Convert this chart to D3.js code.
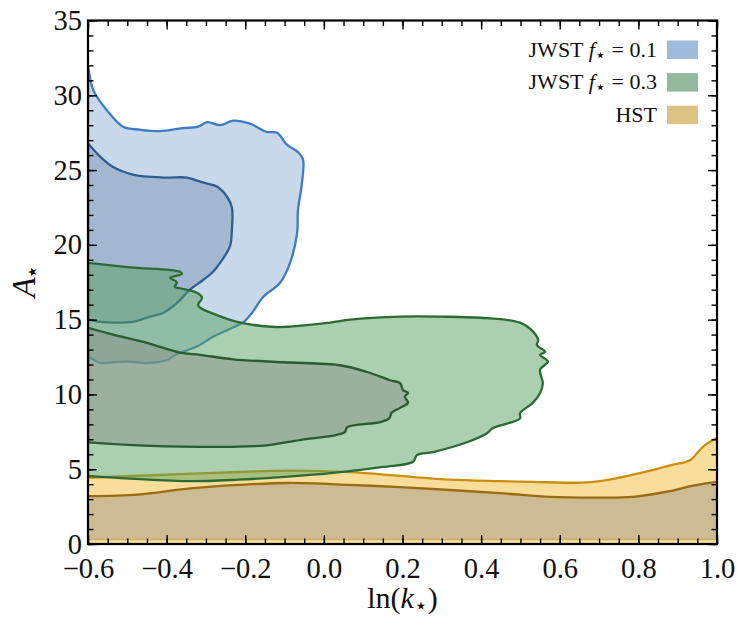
<!DOCTYPE html>
<html><head><meta charset="utf-8">
<script src="https://cdn.jsdelivr.net/npm/d3@7"></script>
<style>
html,body{margin:0;padding:0;background:#fff;}
svg{display:block;}
text{font-family:"Liberation Serif","DejaVu Serif",serif;fill:#111;}
</style></head>
<body>
<svg id="chart" width="738" height="621"></svg>
<script>
// ---- data (ln k*, A*) ----
const xTicks = [-0.6,-0.4,-0.2,0.0,0.2,0.4,0.6,0.8,1.0];
const yTicks = [0,5,10,15,20,25,30,35];
const legendLabels = ["JWST f=0.1","JWST f=0.3","HST"];

const blueOuter = [[-0.600,32.0],[-0.590,30.6],[-0.582,30.1],[-0.552,29.0],[-0.511,27.9],[-0.468,27.7],[-0.417,27.6],[-0.360,27.8],[-0.320,27.9],[-0.297,28.2],[-0.264,28.0],[-0.231,28.3],[-0.188,28.1],[-0.145,27.55],[-0.119,27.5],[-0.094,26.7],[-0.066,26.2],[-0.053,25.7],[-0.056,24.1],[-0.066,22.3],[-0.068,20.8],[-0.086,18.8],[-0.112,17.45],[-0.155,16.5],[-0.183,15.45],[-0.206,14.8],[-0.221,14.6],[-0.246,14.3],[-0.282,13.85],[-0.323,13.2],[-0.374,12.7],[-0.399,12.3],[-0.450,12.1],[-0.500,12.2],[-0.536,12.15],[-0.569,12.1],[-0.595,12.45],[-0.600,12.45]];
const blueInner = [[-0.600,26.8],[-0.569,25.9],[-0.536,25.2],[-0.486,24.7],[-0.409,24.5],[-0.348,24.5],[-0.323,24.3],[-0.297,24.1],[-0.272,23.9],[-0.246,23.2],[-0.234,22.5],[-0.234,21.0],[-0.239,19.9],[-0.264,18.8],[-0.282,18.2],[-0.307,17.65],[-0.341,17.0],[-0.374,16.1],[-0.409,15.45],[-0.442,15.2],[-0.486,14.85],[-0.536,14.8],[-0.569,14.85],[-0.600,15.0]];
const greenOuter = [[-0.600,18.8],[-0.493,18.5],[-0.366,18.2],[-0.361,18.05],[-0.391,17.8],[-0.374,17.5],[-0.379,17.2],[-0.366,17.1],[-0.323,16.8],[-0.310,16.45],[-0.320,16.0],[-0.315,15.8],[-0.272,15.3],[-0.221,14.85],[-0.180,14.65],[-0.112,14.5],[0.016,14.8],[0.067,15.0],[0.194,15.2],[0.295,15.2],[0.415,15.1],[0.499,14.8],[0.532,14.2],[0.545,13.65],[0.542,13.3],[0.563,12.85],[0.550,12.65],[0.570,12.2],[0.550,11.65],[0.557,10.75],[0.550,10.1],[0.532,9.45],[0.499,8.75],[0.499,8.4],[0.430,7.75],[0.415,7.4],[0.364,6.8],[0.278,6.15],[0.237,5.95],[0.227,5.5],[0.150,5.15],[0.023,4.75],[-0.091,4.5],[-0.218,4.3],[-0.346,4.2],[-0.516,4.4],[-0.600,4.55]];
const greenInner = [[-0.600,14.45],[-0.536,14.0],[-0.450,13.45],[-0.366,12.8],[-0.315,12.65],[-0.231,12.35],[-0.104,12.15],[0.041,11.95],[0.110,11.5],[0.168,10.95],[0.194,10.75],[0.201,10.3],[0.214,10.1],[0.206,9.85],[0.214,9.45],[0.194,9.1],[0.173,8.8],[0.166,8.4],[0.143,8.15],[0.059,7.8],[0.054,7.5],[0.033,7.3],[-0.061,6.95],[-0.145,6.6],[-0.231,6.5],[-0.315,6.5],[-0.473,6.6],[-0.600,6.8]];
const hstOuterTop = [[-0.600,4.43],[-0.430,4.6],[-0.262,4.77],[-0.091,4.9],[0.067,4.8],[0.194,4.55],[0.321,4.3],[0.448,4.2],[0.532,4.15],[0.659,4.1],[0.702,4.2],[0.746,4.4],[0.830,4.9],[0.888,5.3],[0.931,5.6],[0.964,6.5],[1.000,7.1]];
const hstInnerTop = [[-0.600,3.2],[-0.473,3.3],[-0.346,3.7],[-0.218,3.95],[-0.091,4.08],[0.067,3.95],[0.194,3.8],[0.448,3.4],[0.575,3.15],[0.702,3.1],[0.786,3.15],[0.873,3.5],[0.939,3.9],[1.000,4.15]];
const hstOuterFloor = 0.0;
const hstInnerFloor = 0.3;

// ---- layout ----
const svg = d3.select("#chart");
const L = 88, R = 717, T = 20.5, B = 544;
const x = d3.scaleLinear().domain([-0.6,1.0]).range([L,R]);
const y = d3.scaleLinear().domain([0,35]).range([B,T]);

svg.append("defs").append("clipPath").attr("id","clip")
  .append("rect").attr("x",L).attr("y",T).attr("width",R-L).attr("height",B-T);

const line = d3.line().x(d=>x(d[0])).y(d=>y(d[1])).curve(d3.curveCatmullRom.alpha(0.5));
const g = svg.append("g").attr("clip-path","url(#clip)");

function hstPath(top, floor){
  return line(top) + "L" + x(1.0) + "," + y(floor) + "L" + x(-0.6) + "," + y(floor) + "Z";
}

// HST
g.append("path").attr("d",hstPath(hstOuterTop,hstOuterFloor)).attr("fill","#f3bb35").attr("fill-opacity",0.5);
g.append("path").attr("d",hstPath(hstInnerTop,hstInnerFloor)).attr("fill","#a19b8c").attr("fill-opacity",0.5);
g.append("path").attr("d",line(hstOuterTop)).attr("fill","none").attr("stroke","#c98f0c").attr("stroke-width",2.3);
g.append("path").attr("d",line(hstInnerTop)).attr("fill","none").attr("stroke","#9a6b10").attr("stroke-width",2.3);
g.append("line").attr("x1",x(-0.6)).attr("x2",x(1.0)).attr("y1",y(hstInnerFloor)).attr("y2",y(hstInnerFloor))
  .attr("stroke","#b89a5a").attr("stroke-opacity",0.6).attr("stroke-width",1.5);

// JWST f=0.1 (blue)
g.append("path").attr("d",line(blueOuter)+"Z").attr("fill","#91b3d7").attr("fill-opacity",0.5);
g.append("path").attr("d",line(blueInner)+"Z").attr("fill","#7e95b5").attr("fill-opacity",0.5);
g.append("path").attr("d",line(blueOuter)+"Z").attr("fill","none").attr("stroke","#3e7cbf").attr("stroke-width",2.3);
g.append("path").attr("d",line(blueInner)+"Z").attr("fill","none").attr("stroke","#2f5d90").attr("stroke-width",2.3);

// JWST f=0.3 (green)
g.append("path").attr("d",line(greenOuter)+"Z").attr("fill","#57a161").attr("fill-opacity",0.5);
g.append("path").attr("d",line(greenInner)+"Z").attr("fill","#8b908a").attr("fill-opacity",0.5);
g.append("path").attr("d",line(greenOuter)+"Z").attr("fill","none").attr("stroke","#2c6a34").attr("stroke-width",2.3);
g.append("path").attr("d",line(greenInner)+"Z").attr("fill","none").attr("stroke","#2a5c31").attr("stroke-width",2.3);

// ---- axes ----
const fmt = d3.format(".1f");
const xMinor = d3.range(-0.6,1.0001,0.05).map(v=>+v.toFixed(2));
const yMinor = d3.range(0,35.001,1);

function styleAxis(sel, fs){
  sel.select(".domain").remove();
  sel.selectAll(".tick line").attr("stroke","#000").attr("stroke-width",1.4);
  sel.selectAll("text").attr("font-size",fs).attr("font-family","'Liberation Serif',serif").attr("fill","#111");
}
// minor ticks
[[d3.axisBottom(x),`translate(0,${B})`],[d3.axisTop(x),`translate(0,${T})`]].forEach(([a,t])=>{
  svg.append("g").attr("transform",t).call(a.tickValues(xMinor).tickSize(-5.5).tickFormat("")).call(s=>styleAxis(s,0));
});
[[d3.axisLeft(y),`translate(${L},0)`],[d3.axisRight(y),`translate(${R},0)`]].forEach(([a,t])=>{
  svg.append("g").attr("transform",t).call(a.tickValues(yMinor).tickSize(-5.5).tickFormat("")).call(s=>styleAxis(s,0));
});
// major ticks
svg.append("g").attr("transform",`translate(0,${B})`)
  .call(d3.axisBottom(x).tickValues(xTicks).tickSize(-9).tickPadding(14).tickFormat(fmt)).call(s=>styleAxis(s,28.5));
svg.append("g").attr("transform",`translate(0,${T})`)
  .call(d3.axisTop(x).tickValues(xTicks).tickSize(-9).tickFormat("")).call(s=>styleAxis(s,0));
svg.append("g").attr("transform",`translate(${L},0)`)
  .call(d3.axisLeft(y).tickValues(yTicks).tickSize(-9).tickPadding(6).tickFormat(d3.format("d"))).call(s=>styleAxis(s,28.5));
svg.append("g").attr("transform",`translate(${R},0)`)
  .call(d3.axisRight(y).tickValues(yTicks).tickSize(-9).tickFormat("")).call(s=>styleAxis(s,0));

// frame
svg.append("rect").attr("x",L).attr("y",T).attr("width",R-L).attr("height",B-T)
  .attr("fill","none").attr("stroke","#000").attr("stroke-width",2.2);

// axis labels
const xl = svg.append("text").attr("x",(L+R)/2).attr("y",608).attr("text-anchor","middle").attr("font-size",30);
xl.append("tspan").text("ln(");
xl.append("tspan").attr("font-style","italic").text("k");
xl.append("tspan").attr("font-size",22).attr("dy",5).attr("font-family","'DejaVu Sans',sans-serif").text("⋆");
xl.append("tspan").attr("dy",-5).text(")");

const yl = svg.append("text").attr("transform","translate(35,281) rotate(-90)").attr("text-anchor","middle").attr("font-size",33);
yl.append("tspan").attr("font-style","italic").text("A");
yl.append("tspan").attr("font-size",24).attr("dy",5).attr("dx",-2).attr("font-family","'DejaVu Sans',sans-serif").text("⋆");

// legend
const legColors = ["#9ebbdc","#94b89b","#dcc383"];
const legVals = ["0.1","0.3",null];
legendLabels.forEach((lab,i)=>{
  const by = 56.5 + i*32.6;
  const t = svg.append("text").attr("x",657).attr("y",by).attr("text-anchor","end").attr("font-size",22);
  if (legVals[i]) {
    t.append("tspan").text("JWST ");
    t.append("tspan").attr("font-style","italic").text("f");
    t.append("tspan").attr("font-size",18).attr("dy",4).attr("font-family","'DejaVu Sans',sans-serif").text("⋆");
    t.append("tspan").attr("dy",-4).text(" = " + legVals[i]);
  } else {
    t.text(lab);
  }
  svg.append("rect").attr("x",667).attr("y",by-16).attr("width",31).attr("height",18.5).attr("fill",legColors[i]);
});
</script>
</body></html>
